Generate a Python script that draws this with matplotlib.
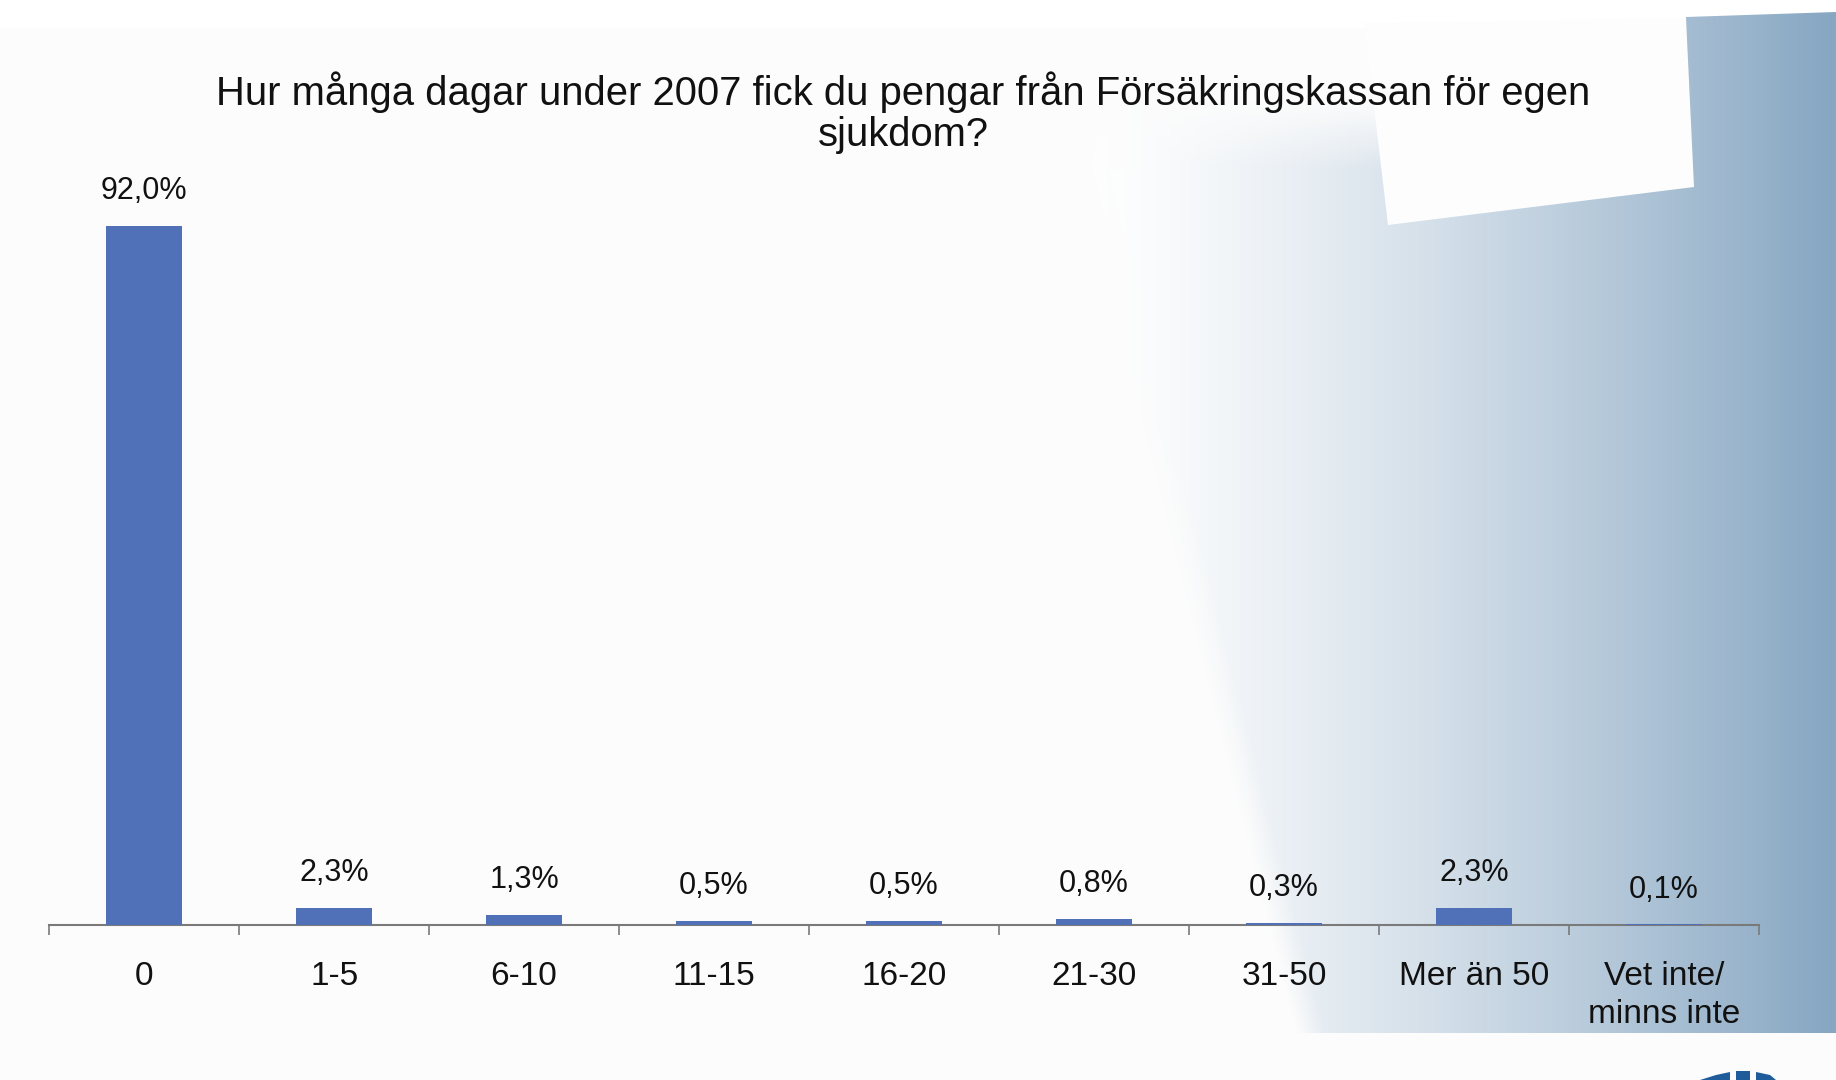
import numpy as np
import matplotlib
matplotlib.use("Agg")
from matplotlib import pyplot as plt
from matplotlib.patches import Polygon

categories = ["0", "1-5", "6-10", "11-15", "16-20", "21-30", "31-50",
              "Mer än 50", "Vet inte/\nminns inte"]
values = [92.0, 2.3, 1.3, 0.5, 0.5, 0.8, 0.3, 2.3, 0.1]
value_labels = ["92,0%", "2,3%", "1,3%", "0,5%", "0,5%", "0,8%", "0,3%",
                "2,3%", "0,1%"]
title = "Hur många dagar under 2007 fick du pengar från Försäkringskassan för egen\nsjukdom?"

plt.rcParams['font.family'] = ['Liberation Sans', 'DejaVu Sans']

W, H = 1836, 1080
fig = plt.figure(figsize=(W / 100, H / 100), dpi=100, facecolor='#fcfcfc')

# background decoration (pixel coordinates)
bg = fig.add_axes([0, 0, 1, 1], zorder=-1)
bg.set_xlim(0, W)
bg.set_ylim(H, 0)
bg.axis('off')
bg.add_patch(Polygon([(0, 0), (W, 0), (W, 28), (0, 28)], closed=True,
                     facecolor='white', edgecolor='none'))

# blue gradient panel, soft edges
x0, y0, y1 = 1040, 12, 1033
gx = np.arange(x0, W) + 0.5
gy = np.arange(y0, y1) + 0.5
GX, GY = np.meshgrid(gx, gy)
base = np.array([134, 166, 194]) / 255.0
t = np.clip((GX - 1080) / (W - 1080), 0, 1) ** 1.35
rgba = np.ones(GX.shape + (4,))
rgba[..., :3] = 1 - t[..., None] * (1 - base)
edge = 1080 + (GY - 117) * (1311 - 1080) / (1033 - 117)
a_left = np.clip((GX - edge + 15) / 30, 0, 1)
a_top = np.where(GX < 1686, np.clip((GY - 100) / 70, 0, 1), 1.0)
rgba[..., 3] = a_left * a_top
img = bg.imshow(rgba, extent=(x0, W, y1, y0), aspect='auto',
                interpolation='bilinear', zorder=1)
clip = Polygon([(1686, 17), (W, 12), (W, y1), (x0, y1), (x0, 40), (1686, 40)],
               closed=True, facecolor='none', edgecolor='none',
               transform=bg.transData)
bg.add_patch(clip)
img.set_clip_path(clip)
# white tab
bg.add_patch(Polygon([(1364, 23), (1686, 18), (1694, 187), (1388, 225)],
                     closed=True, facecolor='#fdfdfd', edgecolor='none',
                     zorder=2))
# corner of the logo peeking in at the bottom
logo = '#1f5c9a'
bg.add_patch(Polygon([(1736, 1071), (1750, 1071), (1750, 1080), (1736, 1080)],
                     closed=True, facecolor=logo, edgecolor='none', zorder=2))
bg.add_patch(Polygon([(1716, 1075), (1730, 1072), (1730, 1080), (1700, 1080)],
                     closed=True, facecolor=logo, edgecolor='none', zorder=2))
bg.add_patch(Polygon([(1756, 1072), (1770, 1075), (1776, 1080), (1756, 1080)],
                     closed=True, facecolor=logo, edgecolor='none', zorder=2))

# chart
ax = fig.add_axes([0.0268, 0.1435, 0.9312, 0.7035])
ax.patch.set_alpha(0)
x = np.arange(len(categories))
ax.bar(x, values, width=0.4, color='#5070b8', zorder=3)
for xi, v, lab in zip(x, values, value_labels):
    ax.annotate(lab, (xi, v), xytext=(0, 25), textcoords='offset points',
                ha='center', va='center', fontsize=22, color='#111111')

ax.set_xlim(-0.5, len(categories) - 0.5)
ax.set_ylim(0, 100)
ax.set_yticks([])
for s in ['top', 'right', 'left']:
    ax.spines[s].set_visible(False)
ax.spines['bottom'].set_color('#7a7a7a')
ax.spines['bottom'].set_linewidth(1.5)
ax.set_xticks(x)
ax.set_xticklabels(categories, fontsize=24, color='#111111', linespacing=1.3)
ax.tick_params(axis='x', which='major', length=0, pad=26)
ax.set_xticks(np.arange(-0.5, len(categories)), minor=True)
ax.tick_params(axis='x', which='minor', length=7, width=1.2, color='#7a7a7a')

fig.text(0.492, 0.8955, title, ha='center', va='center', fontsize=28.8,
         color='#111111', linespacing=1.12)

fig.savefig('out.png', dpi=100, facecolor=fig.get_facecolor())
